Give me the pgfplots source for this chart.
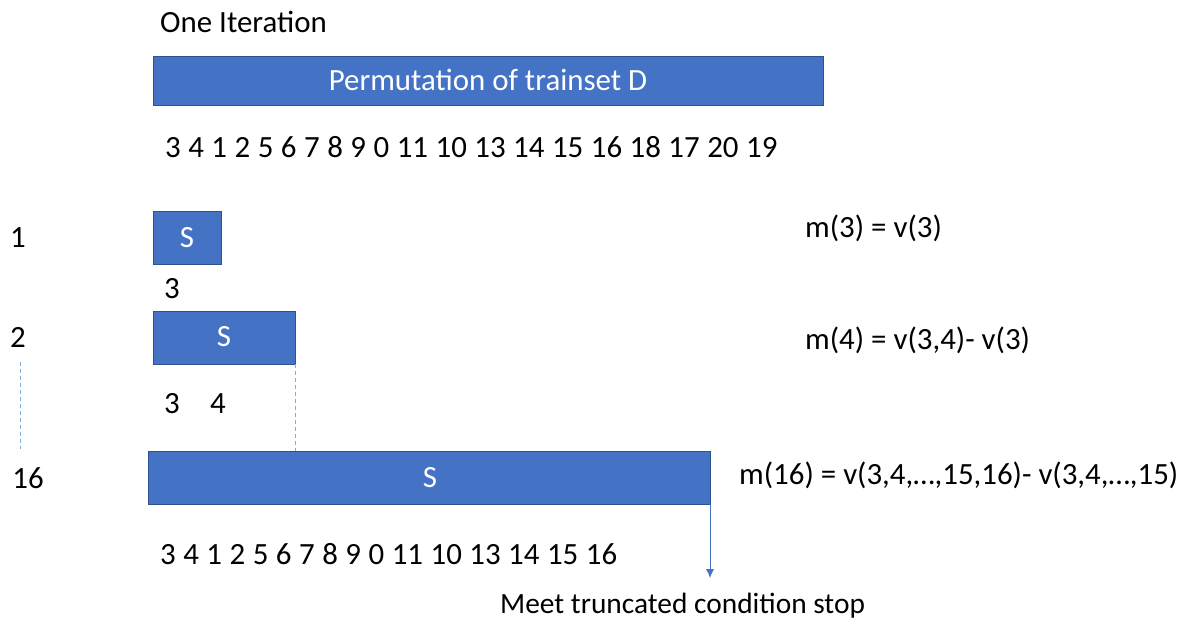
\documentclass[border=0pt]{standalone}
\usepackage{pgfplots}
\pgfplotsset{compat=1.18}
\usetikzlibrary{arrows.meta}
\usepackage{fontspec}
\setmainfont{Carlito}
\definecolor{barblue}{HTML}{4472C4}
\definecolor{bardark}{HTML}{2F528F}
\definecolor{lightblue}{HTML}{7FB0E0}
\definecolor{dashgrey}{HTML}{A5A5A5}
\tikzset{lbl/.style={inner sep=0pt, font=\fontsize{31}{37}\selectfont}}
\begin{document}
\begin{tikzpicture}
\begin{axis}[width=1189bp, height=625bp, scale only axis,
  xmin=0, xmax=1189, ymin=0, ymax=625, y dir=reverse,
  hide axis, clip=false]
% frame the page
\addplot[draw=none] coordinates {(0,0) (1189,625)};
% bars
\addplot[fill=barblue, draw=bardark, line width=0.8pt] coordinates {(153,56) (823,56) (823,105) (153,105)} -- cycle;
\addplot[fill=barblue, draw=bardark, line width=0.8pt] coordinates {(153,211) (221,211) (221,264) (153,264)} -- cycle;
\addplot[fill=barblue, draw=bardark, line width=0.8pt] coordinates {(153,311) (295,311) (295,364) (153,364)} -- cycle;
\addplot[fill=barblue, draw=bardark, line width=0.8pt] coordinates {(148,451) (710,451) (710,504) (148,504)} -- cycle;
% dashed guides
\addplot[lightblue, dash pattern=on 4pt off 3pt, line width=0.8pt] coordinates {(20,362) (20,449)};
\addplot[dashgrey, dash pattern=on 4pt off 3pt, line width=0.8pt] coordinates {(295,364) (295,451)};
% stop arrow
\addplot[barblue, line width=0.8pt, -{Latex[length=9bp,width=8bp]}] coordinates {(710,504) (710,578)};
% text
\node[lbl, anchor=west] at (axis cs:160,22) {One Iteration};
\node[lbl, text=white] at (axis cs:488,80) {Permutation of trainset D};
\node[lbl, anchor=west] at (axis cs:165,147) {\spaceskip=7.5bp 3 4 1 2 5 6 7 8 9 0 11 10 13 14 15 16 18 17 20 19};
\node[lbl] at (axis cs:18,238) {1};
\node[lbl] at (axis cs:18,337) {2};
\node[lbl] at (axis cs:28,478) {16};
\node[lbl, text=white] at (axis cs:187,238) {S};
\node[lbl, text=white] at (axis cs:224,337) {S};
\node[lbl, text=white] at (axis cs:430,478) {S};
\node[lbl] at (axis cs:172,289) {3};
\node[lbl] at (axis cs:172,404) {3};
\node[lbl] at (axis cs:218,404) {4};
\node[lbl, anchor=west] at (axis cs:160,554) {\spaceskip=7.5bp 3 4 1 2 5 6 7 8 9 0 11 10 13 14 15 16};
\node[lbl, anchor=west, font=\fontsize{29.5}{35}\selectfont] at (axis cs:500,606) {Meet truncated condition stop};
\node[lbl, anchor=west] at (axis cs:805,228) {m(3) = v(3)};
\node[lbl, anchor=west] at (axis cs:805,340) {m(4) = v(3,4)- v(3)};
\node[lbl, anchor=west] at (axis cs:739,475) {m(16) = v(3,4,…,15,16)- v(3,4,…,15)};
\end{axis}
\end{tikzpicture}
\end{document}
